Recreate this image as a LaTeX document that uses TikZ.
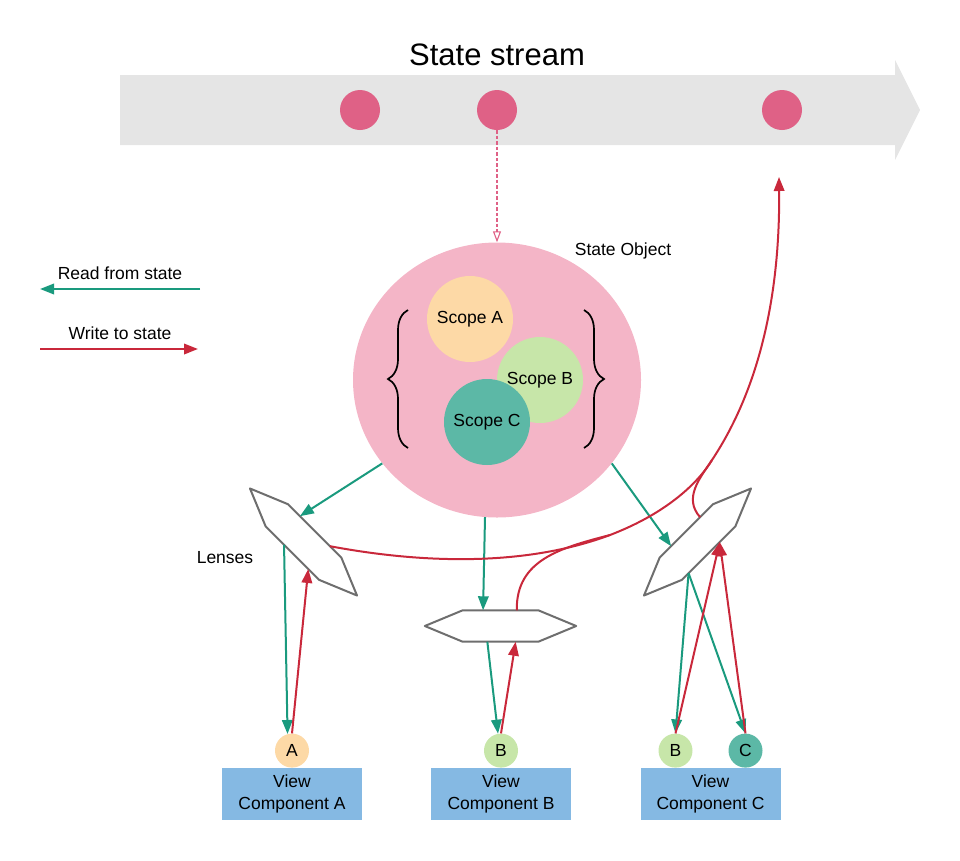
\documentclass[tikz,border=0pt]{standalone}
\usepackage{fontspec}
\setmainfont{Liberation Sans}
\usetikzlibrary{arrows.meta,shapes.geometric,calc,positioning,decorations.pathreplacing}

\definecolor{streamgray}{HTML}{E5E5E5}
\definecolor{eventpink}{HTML}{DF6186}
\definecolor{objpink}{HTML}{F4B5C7}
\definecolor{scopea}{HTML}{FDD9A6}
\definecolor{scopeb}{HTML}{C7E6A9}
\definecolor{scopec}{HTML}{5CB8A6}
\definecolor{viewblue}{HTML}{85B9E3}
\definecolor{readteal}{HTML}{1A9A7E}
\definecolor{writered}{HTML}{C9283B}
\definecolor{lensgray}{HTML}{6E6E6E}

\tikzset{
  txt/.style={font=\fontsize{17.5}{22}\selectfont},
  event/.style={circle, fill=eventpink, minimum size=40pt, inner sep=0pt},
  scope/.style={circle, minimum size=86pt, inner sep=0pt, txt},
  key/.style={circle, minimum size=34pt, inner sep=0pt, txt},
  view/.style={rectangle, fill=viewblue, minimum width=140pt, minimum height=52pt,
    inner sep=0pt, align=center, txt},
  lens/.style={rectangle, minimum width=151pt, minimum height=31pt, inner sep=0pt},
  read/.style={->, draw=readteal, line width=2pt},
  write/.style={->, draw=writered, line width=2pt},
}

\begin{document}
\begin{tikzpicture}[%
    x=1pt, y=-1pt,
    >={Triangle[length=14pt,width=10.5pt]}
    ]
    \useasboundingbox (0,0) rectangle (960,860);

    % state stream
    \fill[streamgray] (120,75) -- (895,75) -- (895,60) -- (920,110) -- (895,160) -- (895,145) -- (120,145) -- cycle;
    \node[font=\fontsize{31}{36}\selectfont] (title) at (497,55) {State stream};
    \node[event] (dot1) at (360,110) {};
    \node[event] (dot2) at (497,110) {};
    \node[event] (dot3) at (782,110) {};
    \coordinate (wtip) at (779,177);

    % state object
    \node[ellipse, fill=objpink, minimum width=288pt, minimum height=275pt, inner sep=0pt] (obj) at (497,380) {};
    \node[txt] (objlabel) at (623,250.5) {State Object};
    \node[scope, fill=scopea] (sA) at (470,319) {Scope A};
    \node[scope, fill=scopeb] (sB) at (540,380) {Scope B};
    \node[scope, fill=scopec] (sC) at (487,422) {Scope C};
    \draw[decorate, decoration={brace, amplitude=20pt}, line width=1.7pt] (408,448) -- (408,310);
    \draw[decorate, decoration={brace, amplitude=20pt}, line width=1.7pt] (584,310) -- (584,448);

    % legend
    \node[txt] (readlabel) at (120,273) {Read from state};
    \node[txt] (writelabel) at (120,333.5) {Write to state};
    \coordinate (readR) at (200,289);
    \coordinate (readL) at (40,289);
    \coordinate (writeL) at (40,349);
    \coordinate (writeR) at (198,349);
    \draw[read] (readR) -- (readL);
    \draw[write] (writeL) -- (writeR);

    % lenses
    \node[lens, rotate=-45] (lensL) at (303.5,542) {};
    \node[lens] (lensM) at (500.5,626) {};
    \node[lens, rotate=45] (lensR) at (697.5,542) {};
    \node[txt] (lenslabel) at (225,558) {Lenses};
    \foreach \lensname in {lensL,lensM,lensR}
      \draw[draw=lensgray, fill=white, line width=2pt, line join=round]
        (\lensname.west) -- ($(\lensname.north west)!.25!(\lensname.north east)$)
        -- ($(\lensname.north west)!.75!(\lensname.north east)$) -- (\lensname.east)
        -- ($(\lensname.south west)!.75!(\lensname.south east)$)
        -- ($(\lensname.south west)!.25!(\lensname.south east)$) -- cycle;

    % view components
    \node[view] (viewA) at (292,794) {View\\Component A};
    \node[view] (viewB) at (501,794) {View\\Component B};
    \node[view] (viewC) at (710.5,794) {View\\Component C};
    \node[key, fill=scopea] (kA) [above=0pt of viewA] {A};
    \node[key, fill=scopeb] (kB) [above=0pt of viewB] {B};
    \node[key, fill=scopeb] (kCB) [above=0pt of viewC, xshift=-35pt] {B};
    \node[key, fill=scopec] (kCC) [above=0pt of viewC, xshift=35pt] {C};

    % dashed pick from the stream
    \draw[draw=eventpink, line width=1.1pt, dash pattern=on 3.5pt off 2pt,
      -{Triangle[open,length=11pt,width=8pt]}] (dot2) -- (obj.north);

    % reads
    \draw[read] (obj.216) -- (lensL.143);
    \draw[read] (obj.265) -- (lensM.138);
    \draw[read] (obj.324) -- (lensR.144);
    \draw[read] (lensL.233) -- (kA.105);
    \draw[read] (lensM.230) -- (kB.100);
    \draw[read] (lensR.209) -- (kCB.north);
    \draw[read] (lensR.209) -- (kCC.north);

    % writes
    \draw[write] (kA.north) -- (lensL.325);
    \draw[write] (kB.north) -- (lensM.314);
    \draw[write] (kCB.north) -- (lensR.315);
    \draw[write] (kCC.north) -- (lensR.315);

    % writes back to the stream
    \coordinate (wmid) at (610,535);
    \coordinate (wjoin) at (712,460);
    \draw[write] (lensL.36) .. controls (430,565) and (530,565) .. (wmid)
      .. controls (670,512) and (700,480) .. (wjoin)
      .. controls (765,380) and (780,280) .. (wtip);
    \draw[draw=writered, line width=2pt] (lensM.44) .. controls (516,560) and (560,548) .. (wmid);
    \draw[draw=writered, line width=2pt] (lensR.39) .. controls (683,498) and (700,478) .. (wjoin);

    \end{tikzpicture}
\end{document}
